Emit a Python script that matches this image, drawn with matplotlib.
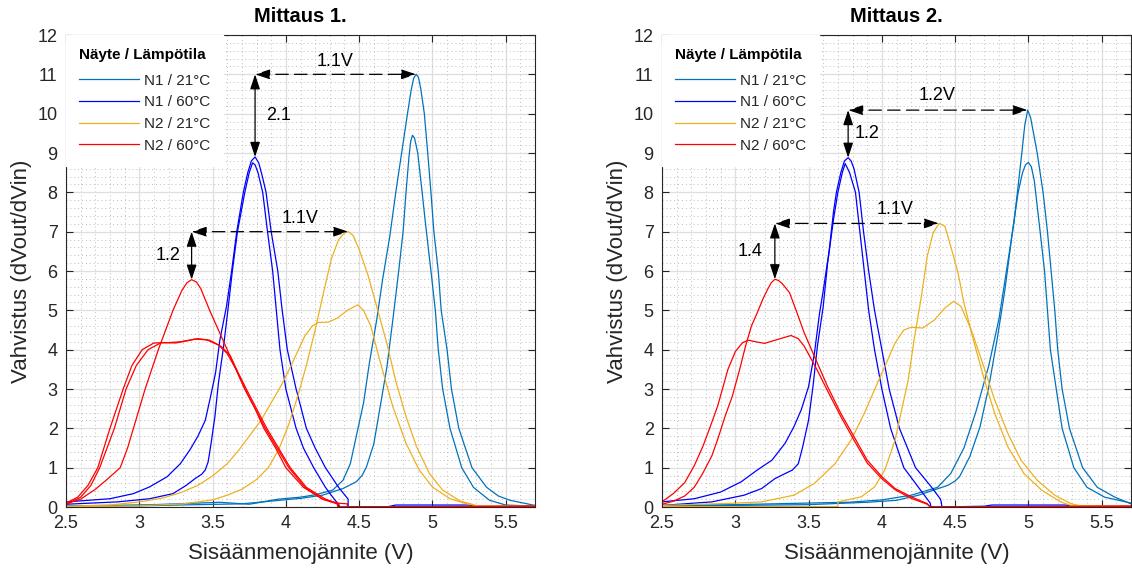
import numpy as np
import matplotlib.pyplot as plt
from matplotlib.ticker import MultipleLocator, FuncFormatter

plt.rcParams['font.family'] = ['Liberation Sans', 'DejaVu Sans']

labels = ['N1 / 21°C', 'N1 / 60°C', 'N2 / 21°C', 'N2 / 60°C']
colors = ['#0072BD', '#0000FF', '#EDB120', '#FF0000']
titles = ['Mittaus 1.', 'Mittaus 2.']

# ---- Mittaus 1: (Vin, gain) points ----
m1_n1_21_a = [(2.5, 0.03), (2.8, 0.04), (3.1, 0.06), (3.4, 0.1), (3.55, 0.12), (3.75, 0.07),
              (3.95, 0.2), (4.1, 0.25), (4.2, 0.31), (4.32, 0.43), (4.39, 0.68), (4.44, 1.1),
              (4.48, 1.79), (4.53, 2.64), (4.57, 3.66), (4.62, 4.76), (4.66, 5.78), (4.71, 6.9),
              (4.75, 8.0), (4.79, 9.0), (4.83, 10.0), (4.855, 10.6), (4.872, 10.9), (4.889, 11.0),
              (4.905, 10.92), (4.92, 10.65), (4.945, 10.0), (4.968, 9.0), (4.99, 8.0), (5.01, 7.0),
              (5.04, 6.0), (5.06, 5.0), (5.1, 4.0), (5.13, 3.0), (5.18, 2.0), (5.27, 1.0),
              (5.37, 0.5), (5.45, 0.28), (5.53, 0.17), (5.7, 0.04)]
m1_n1_21_b = [(2.5, 0.02), (3.0, 0.03), (3.4, 0.06), (3.7, 0.08), (3.9, 0.15), (4.1, 0.22),
              (4.25, 0.3), (4.39, 0.47), (4.48, 0.64), (4.52, 0.8), (4.55, 1.02), (4.6, 1.6),
              (4.64, 2.47), (4.69, 3.57), (4.73, 4.76), (4.77, 6.0), (4.8, 7.0), (4.82, 8.0),
              (4.84, 8.9), (4.852, 9.3), (4.864, 9.45), (4.878, 9.38), (4.9, 9.0), (4.93, 8.0),
              (4.95, 7.3), (4.99, 6.0), (5.02, 5.0), (5.04, 4.0), (5.07, 3.0), (5.12, 2.0),
              (5.2, 1.0), (5.28, 0.5), (5.39, 0.17), (5.5, 0.05), (5.7, 0.02)]
m1_n1_60_a = [(2.5, 0.13), (2.8, 0.21), (2.96, 0.34), (3.07, 0.51), (3.19, 0.77), (3.28, 1.1),
              (3.345, 1.45), (3.4, 1.8), (3.45, 2.2), (3.48, 2.7), (3.52, 3.4), (3.55, 4.25),
              (3.595, 5.1), (3.63, 6.0), (3.665, 7.0), (3.71, 8.0), (3.74, 8.5), (3.765, 8.8),
              (3.79, 8.9), (3.815, 8.75), (3.84, 8.4), (3.865, 8.0), (3.9, 7.0), (3.945, 6.0),
              (3.975, 5.0), (4.01, 4.0), (4.07, 3.0), (4.14, 2.0), (4.2, 1.5), (4.27, 1.0),
              (4.36, 0.5), (4.425, 0.2), (4.425, 0.0), (4.7, 0.01), (4.75, 0.05), (5.25, 0.05),
              (5.3, 0.01), (5.7, 0.01)]
m1_n1_60_b = [(2.5, 0.07), (2.85, 0.13), (3.07, 0.21), (3.23, 0.34), (3.32, 0.55), (3.38, 0.72),
              (3.425, 0.83), (3.45, 0.94), (3.47, 1.15), (3.49, 1.62), (3.516, 2.3), (3.54, 3.15),
              (3.575, 4.08), (3.605, 5.02), (3.635, 6.0), (3.67, 7.0), (3.72, 8.0), (3.75, 8.5),
              (3.773, 8.75), (3.79, 8.7), (3.81, 8.5), (3.842, 8.0), (3.875, 7.0), (3.91, 6.0),
              (3.935, 5.0), (3.96, 4.0), (4.0, 3.0), (4.07, 2.0), (4.12, 1.5), (4.19, 1.0),
              (4.27, 0.5), (4.33, 0.2), (4.357, 0.08), (4.36, 0.0), (5.7, 0.01)]
m1_n2_21_a = [(2.5, 0.01), (3.0, 0.03), (3.3, 0.08), (3.5, 0.18), (3.6, 0.3), (3.7, 0.45),
              (3.8, 0.7), (3.88, 1.0), (3.95, 1.45), (4.02, 2.1), (4.08, 2.8), (4.14, 3.6),
              (4.2, 4.5), (4.26, 5.5), (4.31, 6.3), (4.36, 6.8), (4.4, 6.97), (4.426, 7.0),
              (4.46, 6.9), (4.5, 6.55), (4.56, 5.9), (4.62, 5.1), (4.69, 4.15), (4.75, 3.2),
              (4.82, 2.3), (4.89, 1.55), (4.98, 0.85), (5.07, 0.43), (5.19, 0.15), (5.28, 0.06),
              (5.3, 0.02), (5.7, 0.02)]
m1_n2_21_b = [(2.5, 0.02), (2.8, 0.05), (3.0, 0.13), (3.15, 0.22), (3.28, 0.36), (3.4, 0.55),
              (3.5, 0.79), (3.6, 1.1), (3.68, 1.45), (3.76, 1.85), (3.83, 2.2), (3.9, 2.65),
              (3.97, 3.1), (4.03, 3.55), (4.08, 3.95), (4.13, 4.35), (4.18, 4.6), (4.22, 4.69),
              (4.29, 4.7), (4.35, 4.8), (4.42, 5.0), (4.49, 5.14), (4.53, 5.0), (4.58, 4.6),
              (4.64, 3.74), (4.73, 2.55), (4.82, 1.62), (4.91, 0.94), (5.0, 0.51), (5.12, 0.21),
              (5.23, 0.085), (5.3, 0.03), (5.7, 0.02)]
m1_n2_60_a = [(2.5, 0.08), (2.6, 0.2), (2.7, 0.45), (2.78, 0.7), (2.87, 1.0), (2.92, 1.5),
              (2.96, 2.0), (3.0, 2.5), (3.04, 3.0), (3.13, 4.0), (3.23, 5.0), (3.29, 5.5),
              (3.325, 5.7), (3.357, 5.78), (3.39, 5.72), (3.42, 5.55), (3.48, 5.0), (3.54, 4.5),
              (3.6, 4.0), (3.66, 3.5), (3.72, 3.0), (3.79, 2.5), (3.86, 2.0), (3.94, 1.5),
              (4.02, 1.0), (4.13, 0.5), (4.25, 0.2), (4.35, 0.08), (4.355, 0.0), (5.7, 0.02)]
m1_n2_60_b = [(2.5, 0.1), (2.58, 0.25), (2.65, 0.55), (2.717, 1.0), (2.8, 2.0), (2.89, 3.0),
              (2.95, 3.6), (3.02, 4.0), (3.1, 4.17), (3.2, 4.18), (3.28, 4.2), (3.38, 4.27),
              (3.46, 4.25), (3.54, 4.12), (3.6, 3.9), (3.66, 3.5), (3.72, 3.0), (3.79, 2.5),
              (3.85, 2.0), (3.93, 1.5), (4.0, 1.0), (4.12, 0.5), (4.25, 0.2), (4.35, 0.1),
              (4.42, 0.08), (4.42, 0.0), (5.7, 0.02)]
m1_n2_60_c = [(2.5, 0.06), (2.6, 0.25), (2.67, 0.55), (2.73, 1.0), (2.83, 2.0), (2.91, 3.0),
              (2.98, 3.6), (3.06, 4.0), (3.15, 4.18), (3.25, 4.17), (3.32, 4.22), (3.4, 4.28),
              (3.48, 4.24), (3.56, 4.08), (3.62, 3.85), (3.67, 3.45), (3.73, 3.0), (3.8, 2.5),
              (3.87, 2.0), (3.95, 1.5), (4.03, 1.0), (4.14, 0.5), (4.27, 0.2), (4.36, 0.08),
              (4.37, 0.0)]

# ---- Mittaus 2 ----
m2_n1_21_a = [(2.5, 0.04), (3.0, 0.06), (3.5, 0.1), (3.77, 0.12), (4.0, 0.18), (4.2, 0.3),
              (4.38, 0.5), (4.47, 0.85), (4.56, 1.5), (4.64, 2.4), (4.73, 3.6), (4.8, 4.8),
              (4.85, 6.0), (4.9, 7.2), (4.925, 8.0), (4.955, 9.0), (4.975, 9.7), (4.995, 10.09),
              (5.015, 9.9), (5.035, 9.5), (5.06, 9.0), (5.1, 8.0), (5.13, 7.0), (5.155, 6.0),
              (5.18, 5.0), (5.2, 4.0), (5.23, 3.0), (5.28, 2.0), (5.37, 1.0), (5.47, 0.5),
              (5.59, 0.25), (5.7, 0.08)]
m2_n1_21_b = [(2.5, 0.03), (3.0, 0.04), (3.5, 0.06), (3.9, 0.12), (4.1, 0.17), (4.25, 0.3),
              (4.45, 0.55), (4.5, 0.66), (4.53, 0.77), (4.6, 1.28), (4.67, 2.04), (4.73, 3.06),
              (4.79, 4.34), (4.84, 5.53), (4.89, 6.97), (4.93, 8.0), (4.96, 8.5), (4.98, 8.7),
              (5.0, 8.76), (5.02, 8.65), (5.04, 8.3), (5.08, 7.0), (5.11, 6.0), (5.13, 5.0),
              (5.15, 4.0), (5.19, 3.0), (5.23, 2.0), (5.31, 1.0), (5.4, 0.5), (5.52, 0.25), (5.7, 0.1)]
m2_n1_60_a = [(2.5, 0.13), (2.72, 0.21), (2.9, 0.38), (3.04, 0.64), (3.15, 0.94), (3.25, 1.19),
              (3.34, 1.62), (3.4, 2.04), (3.45, 2.47), (3.5, 3.06), (3.54, 3.91), (3.575, 4.93),
              (3.6, 5.5), (3.64, 6.5), (3.67, 7.5), (3.69, 8.0), (3.72, 8.5), (3.745, 8.8),
              (3.77, 8.88), (3.79, 8.8), (3.81, 8.6), (3.845, 8.0), (3.875, 7.0), (3.91, 6.0),
              (3.95, 5.0), (4.0, 4.0), (4.05, 3.0), (4.12, 2.0), (4.23, 1.0), (4.34, 0.5),
              (4.4, 0.2), (4.405, 0.13), (4.41, 0.0), (4.7, 0.02), (4.75, 0.05), (5.25, 0.05),
              (5.3, 0.02), (5.7, 0.01)]
m2_n1_60_b = [(2.5, 0.04), (2.84, 0.13), (3.06, 0.3), (3.18, 0.47), (3.27, 0.72), (3.34, 0.85),
              (3.39, 0.94), (3.43, 1.1), (3.46, 1.53), (3.5, 2.21), (3.53, 3.06), (3.56, 4.08),
              (3.6, 5.1), (3.63, 6.2), (3.67, 7.31), (3.7, 8.0), (3.73, 8.5), (3.75, 8.73),
              (3.78, 8.5), (3.82, 8.0), (3.85, 7.0), (3.88, 6.0), (3.91, 5.0), (3.95, 4.0),
              (4.0, 3.0), (4.06, 2.0), (4.15, 1.0), (4.25, 0.5), (4.31, 0.2), (4.33, 0.1),
              (4.335, 0.0), (5.7, 0.01)]
m2_n2_21_a = [(2.5, 0.01), (3.7, 0.01), (3.7, 0.13), (3.86, 0.26), (3.95, 0.51), (4.02, 0.94),
              (4.09, 1.7), (4.13, 2.38), (4.18, 3.23), (4.22, 4.25), (4.27, 5.36), (4.31, 6.38),
              (4.35, 6.97), (4.39, 7.21), (4.43, 7.14), (4.47, 6.63), (4.52, 5.95), (4.56, 5.19),
              (4.63, 4.17), (4.7, 3.23), (4.77, 2.38), (4.86, 1.53), (4.97, 0.85), (5.09, 0.43),
              (5.22, 0.13), (5.29, 0.04), (5.7, 0.02)]
m2_n2_21_b = [(2.5, 0.04), (2.95, 0.09), (3.18, 0.13), (3.4, 0.3), (3.54, 0.6), (3.68, 1.1),
              (3.79, 1.7), (3.88, 2.38), (3.95, 2.98), (4.02, 3.57), (4.09, 4.17), (4.15, 4.5),
              (4.2, 4.57), (4.28, 4.55), (4.36, 4.76), (4.43, 5.06), (4.49, 5.23), (4.54, 5.1),
              (4.61, 4.5), (4.68, 3.74), (4.77, 2.72), (4.86, 1.87), (4.95, 1.19), (5.06, 0.68),
              (5.18, 0.3), (5.29, 0.085), (5.36, 0.02), (5.7, 0.02)]
m2_n2_60_a = [(2.5, 0.07), (2.58, 0.15), (2.655, 0.28), (2.72, 0.5), (2.78, 0.87), (2.84, 1.3),
              (2.88, 1.72), (2.93, 2.3), (2.98, 2.82), (3.03, 3.5), (3.07, 4.09), (3.11, 4.6),
              (3.15, 4.94), (3.19, 5.3), (3.22, 5.53), (3.245, 5.7), (3.27, 5.79), (3.295, 5.76),
              (3.32, 5.68), (3.37, 5.45), (3.42, 4.95), (3.47, 4.43), (3.54, 3.83), (3.63, 3.06),
              (3.72, 2.38), (3.81, 1.79), (3.9, 1.19), (4.0, 0.77), (4.09, 0.47), (4.2, 0.26),
              (4.31, 0.085), (4.33, 0.0), (5.7, 0.02)]
m2_n2_60_b = [(2.5, 0.13), (2.58, 0.35), (2.655, 0.62), (2.72, 1.05), (2.78, 1.55), (2.83, 2.05),
              (2.88, 2.57), (2.95, 3.5), (3.0, 3.95), (3.05, 4.18), (3.09, 4.24), (3.14, 4.2),
              (3.2, 4.16), (3.28, 4.25), (3.38, 4.36), (3.43, 4.28), (3.47, 4.09), (3.52, 3.75),
              (3.57, 3.4), (3.63, 2.95), (3.72, 2.3), (3.81, 1.7), (3.9, 1.12), (4.0, 0.72),
              (4.09, 0.44), (4.2, 0.22), (4.31, 0.07), (4.33, 0.0), (5.7, 0.02)]

m1_series = [[m1_n1_21_a, m1_n1_21_b], [m1_n1_60_a, m1_n1_60_b],
             [m1_n2_21_a, m1_n2_21_b], [m1_n2_60_a, m1_n2_60_b, m1_n2_60_c]]
m2_series = [[m2_n1_21_a, m2_n1_21_b], [m2_n1_60_a, m2_n1_60_b],
             [m2_n2_21_a, m2_n2_21_b], [m2_n2_60_a, m2_n2_60_b]]

# difference annotations: (horizontal label, vertical label)
m1_notes = [('1.1V', '2.1'), ('1.1V', '1.2')]
m2_notes = [('1.2V', '1.2'), ('1.1V', '1.4')]

TXT = '#262626'


def peak(curve):
    pts = np.array(curve)
    i = np.argmax(pts[:, 1])
    return pts[i, 0], pts[i, 1]


def double_arrow(ax, p0, p1, dashed):
    ax.annotate('', xy=p1, xytext=p0,
                arrowprops=dict(arrowstyle='<|-|>,head_length=0.9,head_width=0.3',
                                mutation_scale=10, color='k', lw=0.9,
                                linestyle=(0, (10, 5)) if dashed else '-',
                                shrinkA=0, shrinkB=0))


def draw(ax, series, notes, title, offsets):
    lines = []
    for curves, col in zip(series, colors):
        for k, c in enumerate(curves):
            pts = np.array(c)
            ln, = ax.plot(pts[:, 0], pts[:, 1], color=col, lw=0.9)
            if k == 0:
                lines.append(ln)

    # peak to peak arrows: N1/60 vs N1/21 and N2/60 vs N2/21
    pairs = [(series[1][0], series[0][0]), (series[3][0], series[2][0])]
    for (lo, hi), (htxt, vtxt), off in zip(pairs, notes, offsets):
        xl, yl = peak(lo)
        xh, yh = peak(hi)
        double_arrow(ax, (xl, yh), (xh, yh), True)
        double_arrow(ax, (xl, yh), (xl, yl), False)
        ax.text(off[0], yh + off[1], htxt, ha='center', va='center', fontsize=13, color='k')
        ax.text(xl + off[2], (yh + yl) / 2, vtxt, ha='center', va='center', fontsize=13, color='k')

    ax.set_xlim(2.5, 5.7)
    ax.set_ylim(0, 12)
    ax.xaxis.set_major_locator(MultipleLocator(0.5))
    ax.xaxis.set_minor_locator(MultipleLocator(0.1))
    ax.yaxis.set_major_locator(MultipleLocator(1))
    ax.yaxis.set_minor_locator(MultipleLocator(0.2))
    ax.xaxis.set_major_formatter(FuncFormatter(lambda v, p: '%g' % v))
    ax.set_axisbelow(True)
    ax.grid(which='major', color='#dedede', lw=0.9)
    ax.grid(which='minor', color='#bdbdbd', ls=(0, (1, 3)), lw=0.7)
    ax.tick_params(which='major', direction='in', top=True, right=True, length=5,
                   width=0.8, labelsize=13, colors=TXT, pad=6)
    ax.tick_params(which='minor', length=0)
    for s in ax.spines.values():
        s.set_color(TXT)
        s.set_linewidth(0.8)

    ax.set_title(title, fontsize=14.5, fontweight='bold', color='k', pad=9)
    ax.set_xlabel('Sisäänmenojännite (V)', fontsize=16, color=TXT, labelpad=8)
    ax.set_ylabel('Vahvistus (dVout/dVin)', fontsize=16, color=TXT, labelpad=4)

    leg = ax.legend(lines, labels, loc='upper left', title='Näyte / Lämpötila',
                    fontsize=11, title_fontproperties={'weight': 'bold', 'size': 11},
                    alignment='left', frameon=True, fancybox=False, framealpha=1,
                    edgecolor='white', borderaxespad=0, borderpad=0.85,
                    handlelength=3.9, handletextpad=0.35, labelspacing=0.5)
    # a bit more room between the legend title and the entries
    leg._legend_box.sep = 8.5
    for t in leg.get_texts():
        t.set_color(TXT)


fig = plt.figure(figsize=(11.32, 5.73), dpi=100)
ax1 = fig.add_axes([66 / 1132, 66 / 573, 469 / 1132, 472 / 573])
ax2 = fig.add_axes([662 / 1132, 66 / 573, 469 / 1132, 472 / 573])

draw(ax1, m1_series, m1_notes, titles[0], [(4.335, 0.32, 0.16), (4.096, 0.33, -0.16)])
draw(ax2, m2_series, m2_notes, titles[1], [(4.38, 0.36, 0.13), (4.09, 0.36, -0.17)])

fig.savefig('out.png', dpi=100)
